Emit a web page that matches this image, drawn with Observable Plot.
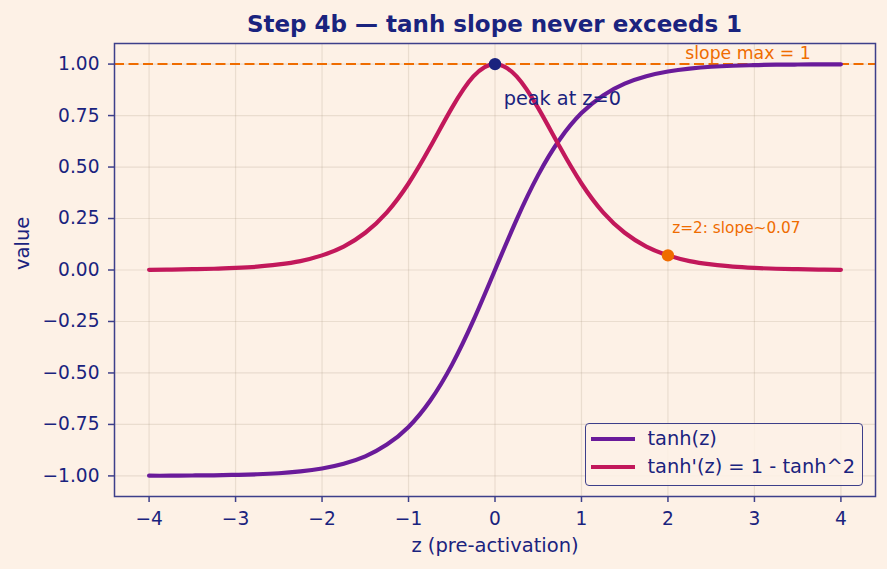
<!DOCTYPE html>
<html><head><meta charset="utf-8">
<script src="https://cdn.jsdelivr.net/npm/d3@7"></script>
<script src="https://cdn.jsdelivr.net/npm/@observablehq/plot@0.6"></script>
<style>
html,body{margin:0;padding:0;background:#fdf1e6;}
#wrap{position:relative;width:887px;height:569px;font-family:"DejaVu Sans",sans-serif;color:#1a237e;overflow:hidden;}
#title{box-sizing:border-box;height:36px;padding:13px 12px 0 114px;text-align:center;font-weight:bold;font-size:23px;line-height:23px;white-space:nowrap;}
#legend{position:absolute;left:585px;top:423px;width:278px;height:63px;box-sizing:border-box;border:1.5px solid #3d3f8a;border-radius:4px;background:rgba(253,241,230,0.85);}
.row{position:absolute;left:0;height:28px;line-height:28px;font-size:19.4px;white-space:nowrap;}
.sw{position:absolute;left:4.5px;top:12px;width:44px;height:4px;}
.lt{position:absolute;left:61.5px;top:0;}
svg{display:block;}
</style>
</head><body>
<div id="wrap">
  <div id="title"></div>
  <div id="chart"></div>
  <div id="legend"></div>
</div>
<script>
// ---- data ----
const titleText = "Step 4b \u2014 tanh slope never exceeds 1";
const zValues = [-4,-3.75,-3.5,-3.25,-3,-2.75,-2.5,-2.25,-2,-1.75,-1.5,-1.25,-1,-0.75,-0.5,-0.25,0,0.25,0.5,0.75,1,1.25,1.5,1.75,2,2.25,2.5,2.75,3,3.25,3.5,3.75,4];
const tanhValues = [-0.999,-0.999,-0.998,-0.997,-0.995,-0.992,-0.987,-0.978,-0.964,-0.941,-0.905,-0.848,-0.762,-0.635,-0.462,-0.245,0,0.245,0.462,0.635,0.762,0.848,0.905,0.941,0.964,0.978,0.987,0.992,0.995,0.997,0.998,0.999,0.999];
const slopeValues = [0.001,0.002,0.004,0.006,0.010,0.016,0.027,0.043,0.071,0.114,0.181,0.280,0.420,0.597,0.786,0.940,1.000,0.940,0.786,0.597,0.420,0.280,0.181,0.114,0.071,0.043,0.027,0.016,0.010,0.006,0.004,0.002,0.001];
const seriesNames = ["tanh(z)", "tanh'(z) = 1 - tanh^2"];
const seriesColors = ["#6a1b9a", "#c2185b"];
const slopeMax = 1;
const peakPoint = {z: 0, v: 1};
const markPoint = {z: 2, v: 0.071};
const xTicks = [-4,-3,-2,-1,0,1,2,3,4];
const yTicks = [-1,-0.75,-0.5,-0.25,0,0.25,0.5,0.75,1];
const xLabel = "z (pre-activation)";
const yLabel = "value";
const notes = [
  {z: 2.2, v: 1.027, text: "slope max = 1", color: "#ef6c00", size: 17.3},
  {z: 0.1, v: 0.8, text: "peak at z=0", color: "#1a237e", size: 19.3},
  {z: 2.05, v: 0.18, text: "z=2: slope~0.07", color: "#ef6c00", size: 15.3}
];

const navy = "#1a237e", spine = "#3d3f8a", orange = "#ef6c00";

const rows = [];
zValues.forEach((z, i) => {
  rows.push({z, v: tanhValues[i], s: seriesNames[0]});
});
zValues.forEach((z, i) => {
  rows.push({z, v: slopeValues[i], s: seriesNames[1]});
});

document.getElementById("title").textContent = titleText;

const chart = Plot.plot({
  width: 887, height: 533,
  marginTop: 7, marginLeft: 114, marginRight: 12, marginBottom: 73,
  style: {background: "transparent", color: navy, fontFamily: "DejaVu Sans", fontSize: "18px", overflow: "visible"},
  x: {domain: [-4.4, 4.4]},
  y: {domain: [-1.1, 1.1]},
  color: {domain: seriesNames, range: seriesColors},
  marks: [
    Plot.gridX(xTicks, {stroke: "#a89580", strokeOpacity: 0.22, strokeWidth: 1.2}),
    Plot.gridY(yTicks, {stroke: "#a89580", strokeOpacity: 0.22, strokeWidth: 1.2}),
    Plot.ruleY([slopeMax], {stroke: orange, strokeWidth: 2, strokeDasharray: "10,4.5"}),
    Plot.line(rows, {x: "z", y: "v", z: "s", stroke: "s", strokeWidth: 4.2, curve: "natural"}),
    Plot.dot([peakPoint], {x: "z", y: "v", r: 6.2, fill: navy}),
    Plot.dot([markPoint], {x: "z", y: "v", r: 6.2, fill: orange}),
    ...notes.map(n => Plot.text([n], {x: "z", y: "v", text: "text", fill: n.color, fontSize: n.size, textAnchor: "start", lineAnchor: "bottom"})),
    Plot.frame({stroke: spine, strokeWidth: 1.5}),
    Plot.axisX(xTicks, {tickSize: 6, tickPadding: 9, fontSize: 18.6, stroke: spine, strokeWidth: 1.5, fill: navy, label: null, tickFormat: d3.format("d")}),
    Plot.axisY(yTicks, {tickSize: 6, tickPadding: 9, fontSize: 18.6, stroke: spine, strokeWidth: 1.5, fill: navy, label: null, tickFormat: d3.format(".2f")}),
    Plot.text([xLabel], {frameAnchor: "bottom", dy: 49, fill: navy, fontSize: 19.5, lineAnchor: "middle"}),
    Plot.text([yLabel], {frameAnchor: "left", dx: -92, rotate: -90, fill: navy, fontSize: 19.5, lineAnchor: "middle"})
  ]
});
document.getElementById("chart").appendChild(chart);

const legend = document.getElementById("legend");
seriesNames.forEach((name, i) => {
  const row = document.createElement("div");
  row.className = "row";
  row.style.top = (0.5 + i * 28) + "px";
  row.style.width = "270px";
  const sw = document.createElement("div");
  sw.className = "sw";
  sw.style.background = seriesColors[i];
  const lt = document.createElement("div");
  lt.className = "lt";
  lt.textContent = name;
  row.appendChild(sw);
  row.appendChild(lt);
  legend.appendChild(row);
});
</script>
</body></html>
